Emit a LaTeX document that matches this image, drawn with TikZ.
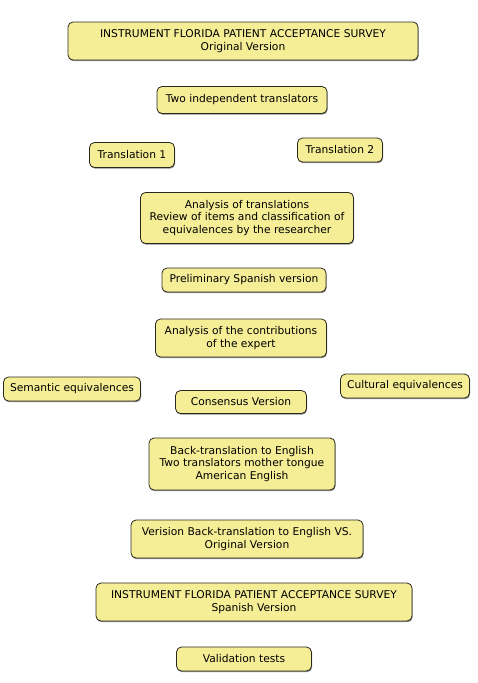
\documentclass[tikz,border=0pt]{standalone}
\usepackage{fontspec}
\setmainfont{DejaVu Sans}
\usetikzlibrary{shadows}
\definecolor{boxfill}{RGB}{246,238,150}
\definecolor{boxline}{RGB}{40,40,30}
\tikzset{
  stage/.style={draw=boxline,fill=boxfill,rounded corners=5pt,line width=0.8pt,
    align=center,inner sep=0pt,font=\fontsize{10.7}{12.8}\selectfont,
    drop shadow={shadow xshift=0.6pt,shadow yshift=-1.2pt,fill=black!45,opacity=1}}
}

\begin{document}
\begin{tikzpicture}[x=1pt,y=-1pt]
  \useasboundingbox (0,0) rectangle (478,683);
  % top of the chain
  \node[stage,minimum width=350,minimum height=38] (orig) at (243,41)
    {INSTRUMENT FLORIDA PATIENT ACCEPTANCE SURVEY\\Original Version};
  \node[stage,minimum width=170,minimum height=27] (twotr) at (242,100) {Two independent translators};
  \node[stage,minimum width=85,minimum height=25] (tra) at (132,155) {Translation 1};
  \node[stage,minimum width=85,minimum height=24] (trb) at (340,150) {Translation 2};
  \node[stage,minimum width=213,minimum height=51] (anal) at (247,218)
    {Analysis of translations\\Review of items and classification of\\equivalences by the researcher};
  \node[stage,minimum width=164,minimum height=24] (prelim) at (244,280) {Preliminary Spanish version};
  \node[stage,minimum width=171,minimum height=38] (expert) at (241,338)
    {Analysis of the contributions\\of the expert};
  % equivalences
  \node[stage,minimum width=137,minimum height=24] (sem) at (72,389) {Semantic equivalences};
  \node[stage,minimum width=131,minimum height=23] (cons) at (241,402) {Consensus Version};
  \node[stage,minimum width=129,minimum height=24] (cult) at (405,386) {Cultural equivalences};
  % back to English
  \node[stage,minimum width=186,minimum height=52] (back) at (242,464)
    {Back-translation to English\\Two translators mother tongue\\American English};
  \node[stage,minimum width=232,minimum height=38] (vs) at (247,539)
    {Verision Back-translation to English VS.\\Original Version};
  \node[stage,minimum width=316,minimum height=38] (span) at (254,602)
    {INSTRUMENT FLORIDA PATIENT ACCEPTANCE SURVEY\\Spanish Version};
  \node[stage,minimum width=135,minimum height=24] (valid) at (244,659) {Validation tests};
\end{tikzpicture}
\end{document}
